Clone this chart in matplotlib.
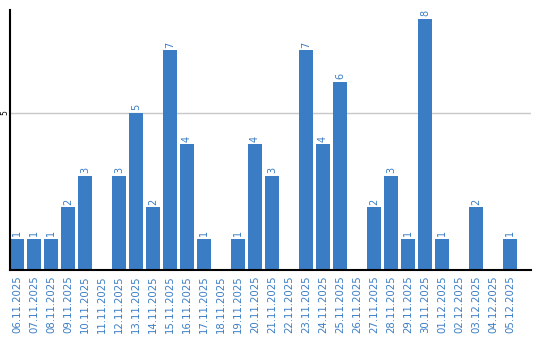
import matplotlib
matplotlib.use("Agg")
import matplotlib.pyplot as plt
import numpy as np

dates = ["06.11.2025", "07.11.2025", "08.11.2025", "09.11.2025", "10.11.2025",
         "11.11.2025", "12.11.2025", "13.11.2025", "14.11.2025", "15.11.2025",
         "16.11.2025", "17.11.2025", "18.11.2025", "19.11.2025", "20.11.2025",
         "21.11.2025", "22.11.2025", "23.11.2025", "24.11.2025", "25.11.2025",
         "26.11.2025", "27.11.2025", "28.11.2025", "29.11.2025", "30.11.2025",
         "01.12.2025", "02.12.2025", "03.12.2025", "04.12.2025", "05.12.2025"]
values = [1, 1, 1, 2, 3, 0, 3, 5, 2, 7, 4, 1, 0, 1, 4, 3, 0, 7, 4, 6,
          0, 2, 3, 1, 8, 1, 0, 2, 0, 1]

blue = "#3b7dc4"
fig = plt.figure(figsize=(5.4, 3.4), dpi=100)
ax = fig.add_axes([10 / 540, 70 / 340, 521 / 540, 260 / 340])
x = np.arange(len(dates))
ax.bar(x, values, width=0.82, color=blue, zorder=2)
for xi, v in zip(x, values):
    if v > 0:
        ax.text(xi, v + 0.08, str(v), rotation=90, ha="center", va="bottom",
                color=blue, fontsize=7)
ax.set_xlim(-0.41, 30.24)
ax.set_ylim(0, 8.28)
ax.set_yticks([5])
ax.set_yticklabels(["5"], rotation=90, va="center", ha="center", fontsize=5.5)
ax.axhline(5, color="#c8c8c8", lw=1, zorder=1)
ax.set_xticks(x)
ax.set_xticklabels(dates, rotation=90, color=blue, fontsize=7.3)
ax.tick_params(axis="x", length=0, pad=4)
ax.tick_params(axis="y", length=0, pad=3.4)
for s in ["top", "right"]:
    ax.spines[s].set_visible(False)
ax.spines["left"].set_linewidth(1.5)
ax.spines["bottom"].set_linewidth(1.5)
fig.savefig("out.png", dpi=100)
